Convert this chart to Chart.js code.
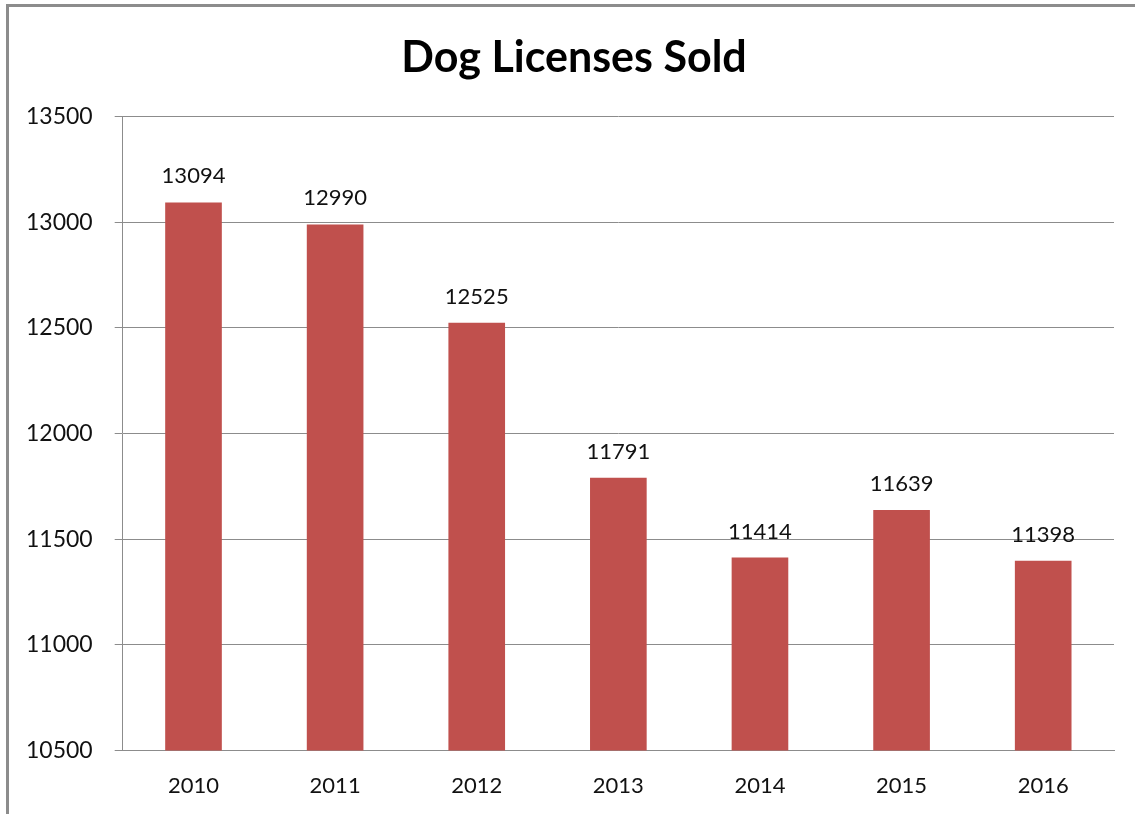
<!DOCTYPE html>
<html>
<head>
<meta charset="utf-8">
<script src="https://cdn.jsdelivr.net/npm/chart.js@4"></script>
<style>
  html, body { margin: 0; padding: 0; background: #fff; }
  .frame {
    position: absolute; left: 6px; top: 4px; width: 1135px; height: 820px;
    border-left: 3px solid #8c8c8c; border-top: 3px solid #8c8c8c;
  }
  #chart-bar { position: absolute; left: 0; top: 0; }
</style>
</head>
<body>
<div class="frame"></div>
<canvas id="chart-bar" width="1135" height="814"></canvas>
<script>
// Data
const years = ['2010','2011','2012','2013','2014','2015','2016'];
const licensesSold = [13094, 12990, 12525, 11791, 11414, 11639, 11398];
const yTicks = [10500, 11000, 11500, 12000, 12500, 13000, 13500];

const fontFamily = "Lato, 'Open Sans', sans-serif";

// value labels above each bar
const barLabels = {
  id: 'barLabels',
  afterDatasetsDraw(chart) {
    const ctx = chart.ctx;
    const meta = chart.getDatasetMeta(0);
    ctx.save();
    ctx.font = '22px ' + fontFamily;
    ctx.fillStyle = '#111';
    ctx.textAlign = 'center';
    ctx.textBaseline = 'bottom';
    meta.data.forEach((bar, i) => {
      ctx.fillText(String(chart.data.datasets[0].data[i]), bar.x, bar.y - 15);
    });
    ctx.restore();
  }
};

// centre the title over the frame, not the padded box
const titleShift = {
  id: 'titleShift',
  afterLayout(chart) {
    if (chart.titleBlock) chart.titleBlock.left = 34;
  }
};

!function(){
  const ctx = document.getElementById('chart-bar');

  new Chart(ctx, {
    type: 'bar',
    data: {
      labels: years,
      datasets: [{
        label: 'Dog Licenses Sold',
        data: licensesSold,
        backgroundColor: '#C0504D',
        borderWidth: 0,
        categoryPercentage: 1,
        barPercentage: 0.4
      }]
    },
    options: {
      responsive: false,
      animation: false,
      layout: { padding: { left: 4, right: 21, top: 0, bottom: -7 } },
      plugins: {
        legend: { display: false },
        tooltip: { enabled: false },
        title: {
          display: true,
          text: 'Dog Licenses Sold',
          color: '#000',
          font: { family: fontFamily, size: 43, weight: 'bold' },
          padding: { top: 32, bottom: 33 }
        }
      },
      scales: {
        x: {
          grid: { display: false, drawTicks: false },
          border: { display: true, color: '#8c8c8c', width: 1 },
          ticks: { color: '#111', font: { family: fontFamily, size: 22 }, padding: 22 }
        },
        y: {
          min: yTicks[0],
          max: yTicks[yTicks.length - 1],
          afterBuildTicks(axis) { axis.ticks = yTicks.map(v => ({ value: v })); },
          grid: { color: '#8c8c8c', lineWidth: 1, tickLength: 8 },
          border: { display: true, color: '#8c8c8c', width: 1 },
          ticks: {
            color: '#111',
            font: { family: fontFamily, size: 23 },
            padding: 22,
            callback: v => String(v)
          }
        }
      }
    },
    plugins: [barLabels, titleShift]
  });
}();
</script>
</body>
</html>
